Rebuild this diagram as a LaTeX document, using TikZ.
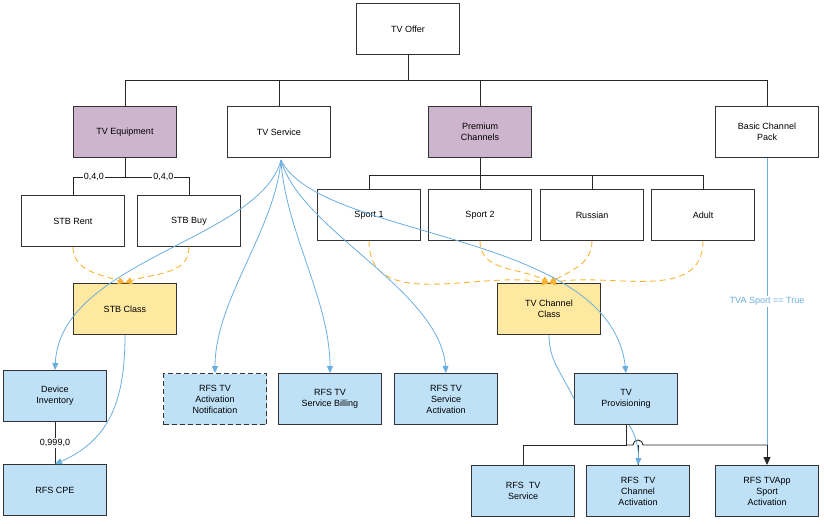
\documentclass[tikz,border=0pt]{standalone}
\usepackage{fontspec}
\setmainfont{Liberation Sans}
\usetikzlibrary{arrows.meta}
\definecolor{pur}{HTML}{CDB5CD}
\definecolor{yel}{HTML}{FFE8A0}
\definecolor{lb}{HTML}{BFE1F7}
\definecolor{bl}{HTML}{6AAEE0}
\definecolor{org}{HTML}{F7B433}
\begin{document}
\begin{tikzpicture}[x=1pt,y=-1pt,
 box/.style={draw=black!80,line width=0.9pt,minimum width=103pt,minimum height=51pt,align=center,font=\fontsize{9}{11}\selectfont},
 wb/.style={box,fill=white}, pb/.style={box,fill=pur}, yb/.style={box,fill=yel}, bb/.style={box,fill=lb},
 tree/.style={draw=black!85,line width=0.9pt},
 blu/.style={draw=bl,line width=0.8pt,-{Triangle[width=6pt,length=7pt]}},
 bln/.style={draw=bl,line width=0.8pt},
 dsh/.style={draw=org,line width=0.9pt,dash pattern=on 6pt off 4pt,-{Triangle[width=7pt,length=7pt]}},
 lab/.style={fill=white,inner sep=1pt,font=\fontsize{9}{11}\selectfont}]
\useasboundingbox (0,0) rectangle (824,524);
\node[wb] (off) at (408,29) {TV Offer};
\node[pb] (eq) at (125,132) {TV Equipment};
\node[wb] (srv) at (279,132) {TV Service};
\node[pb] (prem) at (480,132) {Premium\\Channels};
\node[wb] (basic) at (767,132) {Basic Channel\\Pack};
\node[wb] (rent) at (73,221) {STB Rent};
\node[wb] (buy) at (189,221) {STB Buy};
\node[wb] (s1) at (369,215) {Sport 1};
\node[wb] (s2) at (480,215) {Sport 2};
\node[wb] (ru) at (592,215) {Russian};
\node[wb] (ad) at (703,215) {Adult};
\node[yb] (stbc) at (125,309) {STB Class};
\node[yb] (tvcc) at (549,309) {TV Channel\\Class};
\node[bb] (dev) at (55,396) {Device\\Inventory};
\node[bb,dash pattern=on 5pt off 3pt] (notif) at (215,399) {RFS TV\\Activation\\Notification};
\node[bb] (bill) at (330,399) {RFS TV\\Service Billing};
\node[bb] (sact) at (446,399) {RFS TV\\Service\\Activation};
\node[bb] (prov) at (626,399) {TV\\Provisioning};
\node[bb] (cpe) at (55,490) {RFS CPE};
\node[bb] (rsrv) at (523,491) {RFS\ \ TV\\Service};
\node[bb] (rch) at (638,491) {RFS\ \ TV\\Channel\\Activation};
\node[bb] (rapp) at (767,491) {RFS TVApp\\Sport\\Activation};
% tree
\draw[tree] (off.south) -- (408,80);
\draw[tree] (eq.north) -- (125,80) -| (basic.north);
\draw[tree] (srv.north) -- (279,80);
\draw[tree] (prem.north) -- (480,80);
\draw[tree] (eq.south) -- (125,177) -| node[lab,pos=0.3]{0,4,0} (rent.north);
\draw[tree] (125,177) -| node[lab,pos=0.3]{0,4,0} (buy.north);
\draw[tree] (prem.south) -- (480,175) -| (s1.north);
\draw[tree] (480,175) -| (ad.north);
\draw[tree] (480,175) -- (s2.north);
\draw[tree] (592,175) -- (ru.north);
\draw[tree] (dev.south) -- node[lab]{0,999,0} (cpe.north);
\draw[tree] (prov.south) -- (626,445) -| (rsrv.north);
\draw[tree] (626,445) -- (633,445) arc (180:0:5pt) -- (767,445);
\draw[tree,-{Triangle[width=7pt,length=8pt]}] (767,445) -- (rapp.north);
\draw[tree] (638,445) -- (rch.north);
% dashed
\draw[dsh] (rent.south) to[out=-90,in=160] (stbc.north);
\draw[dsh] (buy.south) to[out=-90,in=20] (stbc.north);
\draw[dsh] (s1.south) to[out=-90,in=170] (tvcc.north);
\draw[dsh] (s2.south) to[out=-90,in=150] (tvcc.north);
\draw[dsh] (ru.south) to[out=-90,in=30] (tvcc.north);
\draw[dsh] (ad.south) to[out=-90,in=10] (tvcc.north);
% blue
\coordinate (o) at (281,160);
\draw[blu] (o) .. controls (260,240) and (60,260) .. (dev.north);
\draw[blu] (o) .. controls (275,230) and (215,300) .. (notif.north);
\draw[blu] (o) .. controls (285,230) and (330,300) .. (bill.north);
\draw[blu] (o) .. controls (300,230) and (440,290) .. (sact.north);
\draw[blu] (o) .. controls (320,240) and (610,230) .. (prov.north);
\draw[blu] (stbc.south) .. controls (125,400) and (110,440) .. (cpe.north);
\draw[bln] (tvcc.south) .. controls (549,360) and (560,370) .. (prov.west);
\draw[blu] (629,425) .. controls (636,435) and (639,450) .. (rch.north);
\draw[bln] (basic.south) -- node[lab,text=bl,pos=0.5]{TVA Sport == True} (767,445);
\end{tikzpicture}
\end{document}
